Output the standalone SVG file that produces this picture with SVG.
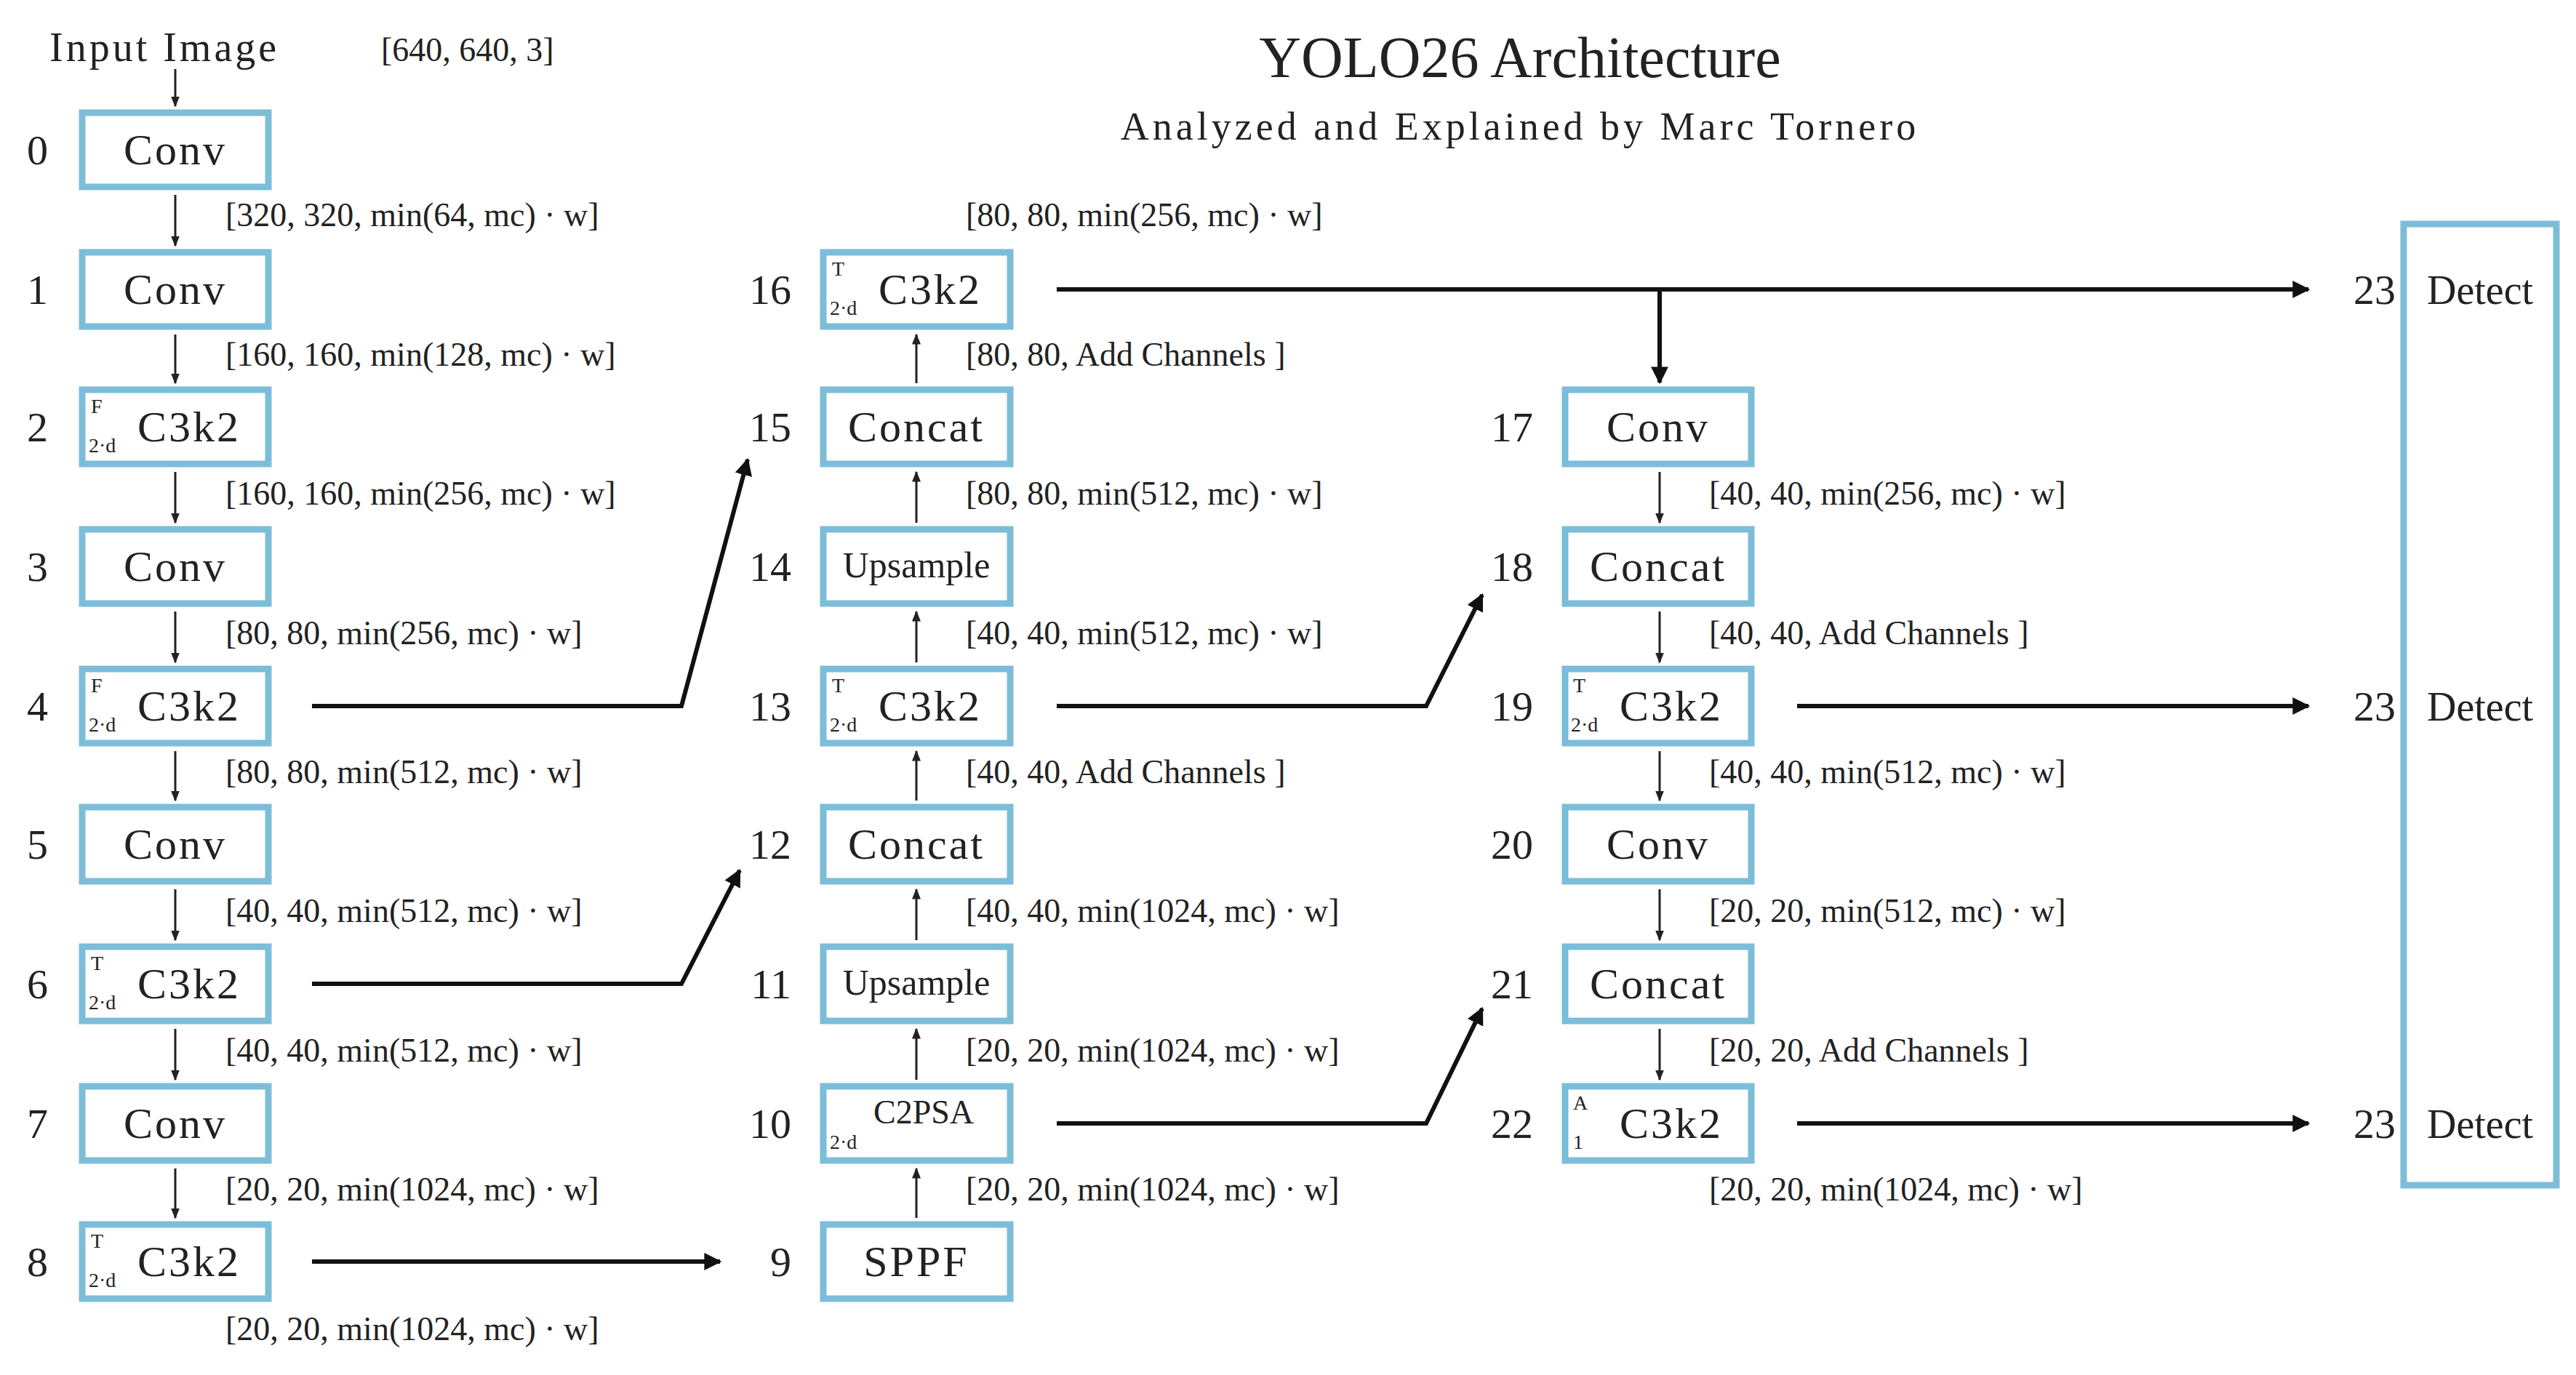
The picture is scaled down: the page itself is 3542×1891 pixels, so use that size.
<svg xmlns="http://www.w3.org/2000/svg" width="3542" height="1891" viewBox="0 0 3542 1891">
<defs>
<style>
.box{fill:#fff;stroke:#7cbdd9;stroke-width:9}
.t{font-family:"Liberation Serif",serif;fill:#222}
.bt{font-size:60px;letter-spacing:3px;text-anchor:middle}
.num{font-size:58px;text-anchor:end}
.lab{font-size:46px}
.sm{font-size:28px}
.thin{stroke:#222;stroke-width:3;fill:none}
.thick{stroke:#111;stroke-width:6;fill:none}
</style>
<marker id="sa" viewBox="0 0 10 10" refX="9" refY="5" markerWidth="5" markerHeight="5" orient="auto" markerUnits="strokeWidth"><path d="M0,1L10,5L0,9z" fill="#222"/></marker>
<marker id="la" viewBox="0 0 10 10" refX="9" refY="5" markerWidth="4" markerHeight="4" orient="auto" markerUnits="strokeWidth"><path d="M0,0L10,5L0,10z" fill="#111"/></marker>
</defs>
<rect width="3542" height="1891" fill="#fff"/>
<g id="title" class="t">
<text x="2090" y="106" font-size="80" text-anchor="middle">YOLO26 Architecture</text>
<text x="2090" y="192" font-size="54" text-anchor="middle" letter-spacing="5">Analyzed and Explained by Marc Tornero</text>
<text x="68" y="84" font-size="56" letter-spacing="4">Input Image</text>
<text x="524" y="84" font-size="46">[640, 640, 3]</text>
</g>
<g id="connectors">
<line class="thin" x1="241" y1="95" x2="241" y2="146" marker-end="url(#sa)"/>
<g class="thin">
<line x1="241" y1="268" x2="241" y2="338" marker-end="url(#sa)"/>
<line x1="241" y1="460" x2="241" y2="527" marker-end="url(#sa)"/>
<line x1="241" y1="649" x2="241" y2="719" marker-end="url(#sa)"/>
<line x1="241" y1="841" x2="241" y2="911" marker-end="url(#sa)"/>
<line x1="241" y1="1033" x2="241" y2="1101" marker-end="url(#sa)"/>
<line x1="241" y1="1223" x2="241" y2="1293" marker-end="url(#sa)"/>
<line x1="241" y1="1415" x2="241" y2="1485" marker-end="url(#sa)"/>
<line x1="241" y1="1607" x2="241" y2="1675" marker-end="url(#sa)"/>
<line x1="1260" y1="1675" x2="1260" y2="1607" marker-end="url(#sa)"/>
<line x1="1260" y1="1485" x2="1260" y2="1415" marker-end="url(#sa)"/>
<line x1="1260" y1="1293" x2="1260" y2="1223" marker-end="url(#sa)"/>
<line x1="1260" y1="1101" x2="1260" y2="1033" marker-end="url(#sa)"/>
<line x1="1260" y1="911" x2="1260" y2="841" marker-end="url(#sa)"/>
<line x1="1260" y1="719" x2="1260" y2="649" marker-end="url(#sa)"/>
<line x1="1260" y1="527" x2="1260" y2="460" marker-end="url(#sa)"/>
<line x1="2282" y1="649" x2="2282" y2="719" marker-end="url(#sa)"/>
<line x1="2282" y1="841" x2="2282" y2="911" marker-end="url(#sa)"/>
<line x1="2282" y1="1033" x2="2282" y2="1101" marker-end="url(#sa)"/>
<line x1="2282" y1="1223" x2="2282" y2="1293" marker-end="url(#sa)"/>
<line x1="2282" y1="1415" x2="2282" y2="1485" marker-end="url(#sa)"/>
</g>
<g class="thick">
<polyline points="429,971 937,971 1028,632" marker-end="url(#la)"/>
<polyline points="429,1353 937,1353 1017,1197" marker-end="url(#la)"/>
<polyline points="429,1735 990,1735" marker-end="url(#la)"/>
<polyline points="1453,971 1961,971 2038,818" marker-end="url(#la)"/>
<polyline points="1453,1545 1961,1545 2038,1387" marker-end="url(#la)"/>
<polyline points="1453,398 3174,398" marker-end="url(#la)"/>
<polyline points="2282,398 2282,526" marker-end="url(#la)"/>
<polyline points="2471,971 3174,971" marker-end="url(#la)"/>
<polyline points="2471,1545 3174,1545" marker-end="url(#la)"/>
</g>
</g>
<g id="labels" class="t lab">
<text x="310" y="311">[320, 320, min(64, mc) · w]</text>
<text x="310" y="503">[160, 160, min(128, mc) · w]</text>
<text x="310" y="694">[160, 160, min(256, mc) · w]</text>
<text x="310" y="886">[80, 80, min(256, mc) · w]</text>
<text x="310" y="1077">[80, 80, min(512, mc) · w]</text>
<text x="310" y="1268">[40, 40, min(512, mc) · w]</text>
<text x="310" y="1460">[40, 40, min(512, mc) · w]</text>
<text x="310" y="1651">[20, 20, min(1024, mc) · w]</text>
<text x="310" y="1843">[20, 20, min(1024, mc) · w]</text>
<text x="1328" y="311">[80, 80, min(256, mc) · w]</text>
<text x="1328" y="503">[80, 80, Add Channels ]</text>
<text x="1328" y="694">[80, 80, min(512, mc) · w]</text>
<text x="1328" y="886">[40, 40, min(512, mc) · w]</text>
<text x="1328" y="1077">[40, 40, Add Channels ]</text>
<text x="1328" y="1268">[40, 40, min(1024, mc) · w]</text>
<text x="1328" y="1460">[20, 20, min(1024, mc) · w]</text>
<text x="1328" y="1651">[20, 20, min(1024, mc) · w]</text>
<text x="2350" y="694">[40, 40, min(256, mc) · w]</text>
<text x="2350" y="886">[40, 40, Add Channels ]</text>
<text x="2350" y="1077">[40, 40, min(512, mc) · w]</text>
<text x="2350" y="1268">[20, 20, min(512, mc) · w]</text>
<text x="2350" y="1460">[20, 20, Add Channels ]</text>
<text x="2350" y="1651">[20, 20, min(1024, mc) · w]</text>
</g>
<g id="n0" class="t"><rect class="box" x="113" y="155" width="256" height="102"/><text class="num" x="66" y="226">0</text><text class="bt" x="241" y="226">Conv</text></g>
<g id="n1" class="t"><rect class="box" x="113" y="347" width="256" height="102"/><text class="num" x="66" y="418">1</text><text class="bt" x="241" y="418">Conv</text></g>
<g id="n2" class="t"><rect class="box" x="113" y="536" width="256" height="102"/><text class="num" x="66" y="607">2</text><text class="sm" x="125" y="568">F</text><text class="sm" x="122" y="622">2·d</text><text class="bt" x="260" y="607">C3k2</text></g>
<g id="n3" class="t"><rect class="box" x="113" y="728" width="256" height="102"/><text class="num" x="66" y="799">3</text><text class="bt" x="241" y="799">Conv</text></g>
<g id="n4" class="t"><rect class="box" x="113" y="920" width="256" height="102"/><text class="num" x="66" y="991">4</text><text class="sm" x="125" y="952">F</text><text class="sm" x="122" y="1006">2·d</text><text class="bt" x="260" y="991">C3k2</text></g>
<g id="n5" class="t"><rect class="box" x="113" y="1110" width="256" height="102"/><text class="num" x="66" y="1181">5</text><text class="bt" x="241" y="1181">Conv</text></g>
<g id="n6" class="t"><rect class="box" x="113" y="1302" width="256" height="102"/><text class="num" x="66" y="1373">6</text><text class="sm" x="125" y="1334">T</text><text class="sm" x="122" y="1388">2·d</text><text class="bt" x="260" y="1373">C3k2</text></g>
<g id="n7" class="t"><rect class="box" x="113" y="1494" width="256" height="102"/><text class="num" x="66" y="1565">7</text><text class="bt" x="241" y="1565">Conv</text></g>
<g id="n8" class="t"><rect class="box" x="113" y="1684" width="256" height="102"/><text class="num" x="66" y="1755">8</text><text class="sm" x="125" y="1716">T</text><text class="sm" x="122" y="1770">2·d</text><text class="bt" x="260" y="1755">C3k2</text></g>
<g id="n9" class="t"><rect class="box" x="1132" y="1684" width="257" height="102"/><text class="num" x="1088" y="1755">9</text><text class="bt" x="1260" y="1755">SPPF</text></g>
<g id="n10" class="t"><rect class="box" x="1132" y="1494" width="257" height="102"/><text class="num" x="1088" y="1565">10</text><text x="1270" y="1545" font-size="46" text-anchor="middle">C2PSA</text><text class="sm" x="1141" y="1580">2·d</text></g>
<g id="n11" class="t"><rect class="box" x="1132" y="1302" width="257" height="102"/><text class="num" x="1088" y="1373">11</text><text x="1260" y="1368" font-size="50" text-anchor="middle">Upsample</text></g>
<g id="n12" class="t"><rect class="box" x="1132" y="1110" width="257" height="102"/><text class="num" x="1088" y="1181">12</text><text class="bt" x="1260" y="1181">Concat</text></g>
<g id="n13" class="t"><rect class="box" x="1132" y="920" width="257" height="102"/><text class="num" x="1088" y="991">13</text><text class="sm" x="1144" y="952">T</text><text class="sm" x="1141" y="1006">2·d</text><text class="bt" x="1279" y="991">C3k2</text></g>
<g id="n14" class="t"><rect class="box" x="1132" y="728" width="257" height="102"/><text class="num" x="1088" y="799">14</text><text x="1260" y="794" font-size="50" text-anchor="middle">Upsample</text></g>
<g id="n15" class="t"><rect class="box" x="1132" y="536" width="257" height="102"/><text class="num" x="1088" y="607">15</text><text class="bt" x="1260" y="607">Concat</text></g>
<g id="n16" class="t"><rect class="box" x="1132" y="347" width="257" height="102"/><text class="num" x="1088" y="418">16</text><text class="sm" x="1144" y="379">T</text><text class="sm" x="1141" y="433">2·d</text><text class="bt" x="1279" y="418">C3k2</text></g>
<g id="n17" class="t"><rect class="box" x="2152" y="536" width="256" height="102"/><text class="num" x="2108" y="607">17</text><text class="bt" x="2280" y="607">Conv</text></g>
<g id="n18" class="t"><rect class="box" x="2152" y="728" width="256" height="102"/><text class="num" x="2108" y="799">18</text><text class="bt" x="2280" y="799">Concat</text></g>
<g id="n19" class="t"><rect class="box" x="2152" y="920" width="256" height="102"/><text class="num" x="2108" y="991">19</text><text class="sm" x="2163" y="952">T</text><text class="sm" x="2160" y="1006">2·d</text><text class="bt" x="2298" y="991">C3k2</text></g>
<g id="n20" class="t"><rect class="box" x="2152" y="1110" width="256" height="102"/><text class="num" x="2108" y="1181">20</text><text class="bt" x="2280" y="1181">Conv</text></g>
<g id="n21" class="t"><rect class="box" x="2152" y="1302" width="256" height="102"/><text class="num" x="2108" y="1373">21</text><text class="bt" x="2280" y="1373">Concat</text></g>
<g id="n22" class="t"><rect class="box" x="2152" y="1494" width="256" height="102"/><text class="num" x="2108" y="1565">22</text><text class="sm" x="2163" y="1526">A</text><text class="sm" x="2163" y="1580">1</text><text class="bt" x="2298" y="1565">C3k2</text></g>
<g id="n23" class="t"><rect class="box" x="3305" y="308" width="210" height="1322"/>
<text class="num" x="3294" y="418">23</text><text x="3410" y="418" font-size="56" text-anchor="middle">Detect</text>
<text class="num" x="3294" y="991">23</text><text x="3410" y="991" font-size="56" text-anchor="middle">Detect</text>
<text class="num" x="3294" y="1565">23</text><text x="3410" y="1565" font-size="56" text-anchor="middle">Detect</text></g>
</svg>
